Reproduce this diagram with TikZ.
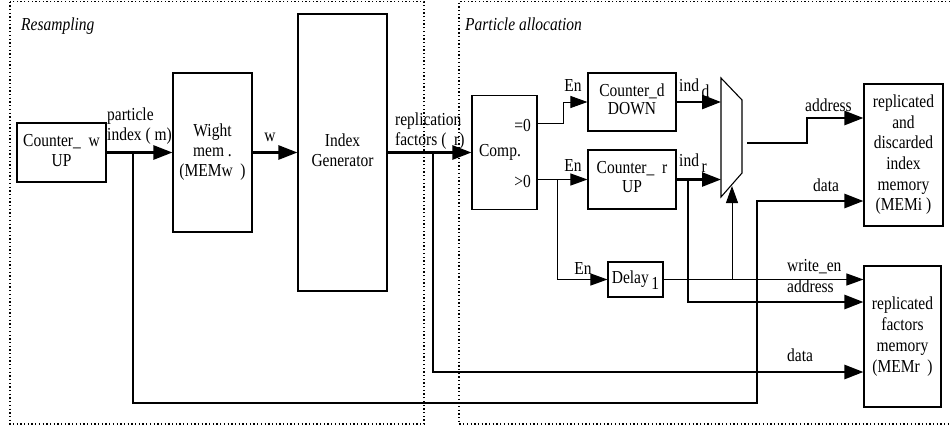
\documentclass[tikz,border=0pt]{standalone}
\usepackage{fontspec}
\usepackage{graphicx}
\setmainfont{Liberation Serif}
\usetikzlibrary{arrows.meta}

% text set slightly taller than wide, lines centred
\newcommand\tx[2][16.9pt]{\scalebox{1}[1.18]{\fontsize{15.5}{#1}\selectfont
  \begin{tabular}{@{}c@{}}#2\end{tabular}}}

\begin{document}
\begin{tikzpicture}[x=1pt,y=-1pt,
  every node/.style={inner sep=0pt},
  blk/.style={draw, line width=1.1pt},
  bus/.style={line width=2.6pt},
  sig/.style={line width=1pt},
  tip/.style={-{Triangle[length=19pt,width=14pt]}},
  stip/.style={-{Triangle[length=17pt,width=12pt]}},
  frame/.style={line width=1.3pt, dash pattern=on 1.3pt off 2.4pt},
  lbl/.style={anchor=west},
]
\useasboundingbox (0,0) rectangle (950,429);

% dotted frames of the two sections
\draw[frame] (10,1.5) rectangle (424,424);
\draw[frame] (950,1.5) -- (459,1.5) -- (459,424) -- (950,424);
\node[lbl] (tres) at (21,27) {\tx{\itshape Resampling}};
\node[lbl] (tpal) at (465,27) {\tx{\itshape Particle allocation}};

% blocks
\node[blk, minimum width=89pt, minimum height=59pt] (cw) at (61.5,152.5) {\tx{Counter\_\ \ w\\UP}};
\node[blk, minimum width=79pt, minimum height=159pt] (wm) at (212.5,152.5) {\tx{Wight\\mem .\\(MEMw\ \ )}};
\node[blk, minimum width=89pt, minimum height=277pt] (ig) at (342.5,152.5) {\tx{Index\\Generator}};
\node[blk, minimum width=65pt, minimum height=114pt] (comp) at (504.5,152.5) {};
\node[anchor=east] (eq) at (531,128) {\tx{=0}};
\node (ctext) at (500,153) {\tx{Comp.}};
\node[anchor=east] (gt) at (531,184) {\tx{>0}};
\node[blk, minimum width=88pt, minimum height=58pt] (cd) at (632,102) {\tx[15.3pt]{Counter\_d\\DOWN}};
\node[blk, minimum width=88pt, minimum height=59pt] (cr) at (632,179.5) {\tx[16.1pt]{Counter\_\ \ r\\UP}};
\node[blk, minimum width=55pt, minimum height=35pt] (dl) at (635.5,279.5) {\tx{Delay\,\raisebox{-5pt}{1}}};
\node[blk, minimum width=79pt, minimum height=142pt] (memi) at (903.5,155)
      {\tx[17.5pt]{replicated\\and\\discarded\\index\\memory\\(MEMi )}};
\node[blk, minimum width=77pt, minimum height=141pt] (memr) at (902.5,336.5)
      {\tx[17.8pt]{replicated\\factors\\memory\\(MEMr\ \ )}};

% multiplexer
\coordinate (m1) at (721,78);
\coordinate (m2) at (742,100);
\coordinate (m3) at (742,173);
\coordinate (m4) at (721,197);
\draw[line width=1.1pt] (m1) -- (m2) -- (m3) -- (m4) -- cycle;

% resampling data path
\draw[bus,tip] (cw.east) -- (wm.west);
\draw[bus,tip] (wm.east) -- (ig.west);
\draw[bus,tip] (ig.east) -- (comp.west);

% particle index to MEMi data
\coordinate (tm) at (133,152.5);
\coordinate (tmb) at (133,403);
\coordinate (tmc) at (757,403);
\coordinate (tmd) at (757,201);
\draw[bus,tip] (tm) -- (tmb) -- (tmc) -- (tmd) -- (memi.west |- tmd);

% replication factors to MEMr data
\coordinate (tr) at (433,152.5);
\coordinate (trb) at (433,372);
\draw[bus,tip] (tr) -- (trb) -- (memr.west |- trb);

% comparator outputs
\coordinate (eqo) at (537,123);
\coordinate (eqk) at (563,123);
\draw[sig,stip] (eqo) -- (eqk) |- (cd.west);
\draw[sig,stip] (comp.east |- cr.west) -- (cr.west);
\coordinate (gtk) at (557,179.5);
\draw[sig,stip] (gtk) |- (dl.west);

% counters into the multiplexer
\draw[bus,tip] (cd.east) -- (cd.east -| m1);
\draw[bus,tip] (cr.east) -- (cr.east -| m1);
\coordinate (irk) at (688,179.5);
\coordinate (irb) at (688,302);
\draw[bus,tip] (irk) -- (irb) -- (memr.west |- irb);

% multiplexer output to MEMi address
\coordinate (mo) at (747,143);
\coordinate (mk) at (807,143);
\coordinate (mu) at (807,118);
\draw[bus,tip] (mo) -- (mk) -- (mu) -- (memi.west |- mu);

% write enable and select
\draw[sig,stip] (dl.east) -- (memr.west |- dl.east);
\coordinate (sel) at (732,279.5);
\coordinate (selt) at (732,186);
\draw[sig,stip] (sel) -- (selt);

% labels
\node[lbl] (lpart) at (107,117) {\tx{particle}};
\node[lbl] (lidx) at (107,137) {\tx{index ( m)}};
\node (lw) at (270,138) {\tx{w}};
\node[lbl] (lrep) at (395,122) {\tx{replication}};
\node[lbl] (lfac) at (395,142) {\tx{factors (\ \ r)}};
\node (len1) at (573,88) {\tx{En}};
\node (len2) at (573,168) {\tx{En}};
\node (len3) at (583,271) {\tx{En}};
\node[lbl] (lind) at (679,88) {\tx{ind\,\raisebox{-5pt}{d}}};
\node[lbl] (linr) at (679,163) {\tx{ind\,\raisebox{-5pt}{r}}};
\node[lbl] (laddi) at (805,108) {\tx{address}};
\node[lbl] (ldati) at (813,188) {\tx{data}};
\node[lbl] (lwen) at (787,268) {\tx{write\_en}};
\node[lbl] (laddr) at (787,289) {\tx{address}};
\node[lbl] (ldatr) at (787,358) {\tx{data}};
\end{tikzpicture}
\end{document}
